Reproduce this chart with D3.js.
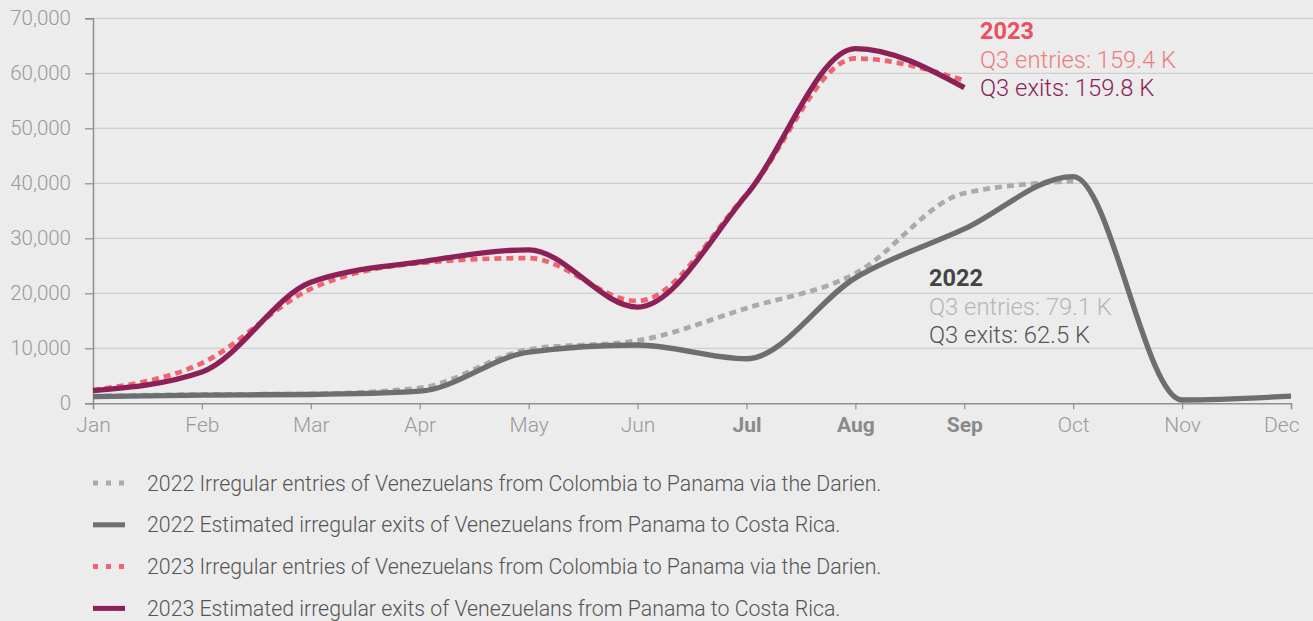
<!DOCTYPE html>
<html>
<head>
<meta charset="utf-8">
<script src="https://cdn.jsdelivr.net/npm/d3@7"></script>
<style>
  body { margin: 0; background: #ebeceb; }
  svg { display: block; font-family: Roboto, sans-serif; }
</style>
</head>
<body>
<svg id="chart" width="1313" height="621"></svg>
<script>
const months = ['Jan', 'Feb', 'Mar', 'Apr', 'May', 'Jun', 'Jul', 'Aug', 'Sep', 'Oct', 'Nov', 'Dec']
const boldMonths = ['Jul', 'Aug', 'Sep']
const yTicks = [0, 10000, 20000, 30000, 40000, 50000, 60000, 70000]

const entries2022 = [1300, 1600, 1700, 2800, 9800, 11400, 17300, 23600, 38200, 40400]
const exits2022 = [1200, 1500, 1600, 2200, 9300, 10600, 8100, 22800, 31700, 41200, 600, 1300]
const entries2023 = [2400, 7300, 20800, 25500, 26400, 18600, 38000, 62700, 58700]
const exits2023 = [2300, 5700, 22000, 25700, 27900, 17500, 37900, 64500, 57400]

const series = [
  { name: '2022 Irregular entries of Venezuelans from Colombia to Panama via the Darien.', values: entries2022, color: '#a9aaac', dash: '7,5' },
  { name: '2022 Estimated irregular exits of Venezuelans from Panama to Costa Rica.', values: exits2022, color: '#6d6e71', dash: null },
  { name: '2023 Irregular entries of Venezuelans from Colombia to Panama via the Darien.', values: entries2023, color: '#ee6470', dash: '7,5' },
  { name: '2023 Estimated irregular exits of Venezuelans from Panama to Costa Rica.', values: exits2023, color: '#8d2157', dash: null }
]

const notes = [
  { x: 980, y: 39, lines: [
    { t: '2023', c: '#ee4e62', w: 700, s: 23.5 },
    { t: 'Q3 entries: 159.4 K', c: '#f07c80', w: 300, s: 23.8 },
    { t: 'Q3 exits: 159.8 K', c: '#8d2157', w: 300, s: 23.8 }] },
  { x: 929, y: 286, lines: [
    { t: '2022', c: '#444444', w: 700, s: 23.5 },
    { t: 'Q3 entries: 79.1 K', c: '#b5b6b8', w: 300, s: 23.8 },
    { t: 'Q3 exits: 62.5 K', c: '#555555', w: 300, s: 23.8 }] }
]

let svg = d3.select('#chart')
let plotLeft = 93
let plotRight = 1291
let plotTop = 18.3
let plotBottom = 403.3

let x = d3.scalePoint().domain(months).range([plotLeft, plotRight])
let y = d3.scaleLinear().domain([0, 70000]).range([plotBottom, plotTop])

svg.append('g')
  .selectAll('line')
  .data(yTicks.slice(1))
  .enter()
  .append('line')
  .attr('x1', plotLeft)
  .attr('x2', 1313)
  .attr('y1', d => y(d))
  .attr('y2', d => y(d))
  .attr('stroke', '#c8c9c8')
  .attr('stroke-width', 1)

let yAxis = svg.append('g')
  .attr('transform', `translate(${plotLeft},0)`)
  .call(d3.axisLeft(y).tickValues(yTicks).tickFormat(d3.format(',')).tickSize(8).tickPadding(14))
  .attr('font-family', 'Roboto, sans-serif')
yAxis.select('.domain').attr('stroke', '#8f8f8f').attr('stroke-width', 1.5)
yAxis.selectAll('.tick line').attr('stroke', '#8f8f8f').attr('stroke-width', 1.2)
yAxis.selectAll('.tick text')
  .attr('fill', '#9a9a9a')
  .attr('font-weight', 300)
  .attr('font-size', 20.5)

let xAxis = svg.append('g')
  .attr('transform', `translate(0,${plotBottom})`)
  .call(d3.axisBottom(x).tickSizeOuter(0).tickSize(6).tickPadding(8))
  .attr('font-family', 'Roboto, sans-serif')
xAxis.select('.domain').attr('stroke', '#8f8f8f').attr('stroke-width', 1.5)
xAxis.selectAll('.tick line').attr('stroke', '#8f8f8f').attr('stroke-width', 1.2)
xAxis.selectAll('.tick text')
  .attr('fill', d => boldMonths.includes(d) ? '#8a8a8a' : '#9a9a9a')
  .attr('font-weight', d => boldMonths.includes(d) ? 700 : 300)
  .attr('font-size', 21)
// keep the last label inside the frame
xAxis.selectAll('.tick text')
  .filter(d => d === 'Dec')
  .attr('text-anchor', 'end')
  .attr('x', 8)

let line = d3.line()
  .x((d, i) => x(months[i]))
  .y(d => y(d))
  .curve(d3.curveMonotoneX)

svg.append('g')
  .selectAll('path')
  .data(series)
  .enter()
  .append('path')
  .attr('d', d => line(d.values))
  .attr('fill', 'none')
  .attr('stroke', d => d.color)
  .attr('stroke-width', d => d.dash ? 4.7 : 5.3)
  .attr('stroke-dasharray', d => d.dash)

notes.forEach(n => {
  svg.append('g')
    .selectAll('text')
    .data(n.lines)
    .enter()
    .append('text')
    .attr('x', n.x)
    .attr('y', (d, i) => n.y + i * 28.5)
    .attr('fill', d => d.c)
    .attr('font-weight', d => d.w)
    .attr('font-size', d => d.s)
    .text(d => d.t)
})

let legend = svg.append('g')
  .selectAll('g')
  .data(series)
  .enter()
  .append('g')
  .attr('transform', (d, i) => `translate(93,${483 + i * 41.8})`)

legend.append('line')
  .attr('x1', 0)
  .attr('x2', 32)
  .attr('stroke', d => d.color)
  .attr('stroke-width', 5)
  .attr('stroke-dasharray', d => d.dash ? '5,8' : null)

legend.append('text')
  .attr('x', 54)
  .attr('y', 7.5)
  .attr('fill', '#555555')
  .attr('font-weight', 300)
  .attr('font-size', 21.3)
  .text(d => d.name)
</script>
</body>
</html>
